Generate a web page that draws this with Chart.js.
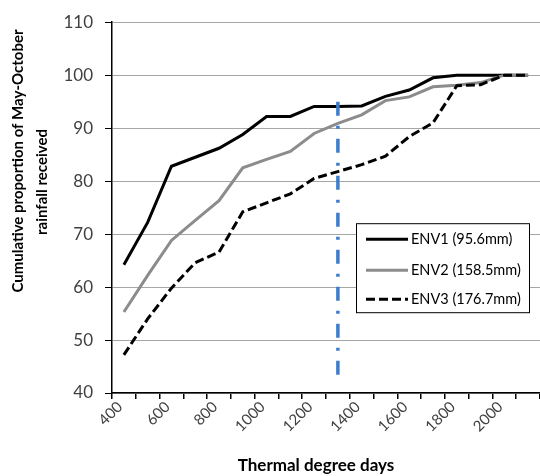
<!DOCTYPE html>
<html>
<head>
<meta charset="utf-8">
<script src="https://cdn.jsdelivr.net/npm/chart.js@4.4.1/dist/chart.umd.min.js"></script>
<style>
  html, body { margin: 0; padding: 0; background: #fff; }
  #wrap { width: 540px; height: 476px; }
</style>
</head>
<body>
<div id="wrap"><canvas id="rainChart" width="540" height="476"></canvas></div>
<script>
// Categories: thermal degree days
const degreeDays = ['400', '500', '600', '700', '800', '900', '1000', '1100', '1200',
    '1300', '1400', '1500', '1600', '1700', '1800', '1900', '2000', '2100'];
const xTickLabels = ['400', '600', '800', '1000', '1200', '1400', '1600', '1800', '2000'];
const yTicks = [40, 50, 60, 70, 80, 90, 100, 110];

// Cumulative proportion of May-October rainfall (%)
const env1 = [64.2, 72.2, 82.8, 84.5, 86.2, 88.8, 92.2, 92.2, 94.1, 94.1, 94.2, 96.0, 97.2, 99.5, 100, 100, 100, 100];
const env2 = [55.3, 62.2, 68.8, 72.6, 76.3, 82.5, 84.1, 85.6, 89.0, 90.9, 92.5, 95.2, 95.9, 97.8, 98.1, 98.6, 100, 100];
const env3 = [47.2, 54.0, 59.8, 64.6, 66.6, 74.2, 75.9, 77.6, 80.5, 81.8, 83.1, 84.7, 88.4, 91.0, 98.0, 98.2, 100, 100];
const seriesNames = ['ENV1 (95.6mm)', 'ENV2 (158.5mm)', 'ENV3 (176.7mm)'];

// Vertical marker
const markerDay = '1300';
const markerRange = [95, 42];

const FONT = 'Lato, "Open Sans", sans-serif';

// Legend box drawn inside the plot area
const insideLegend = {
    id: 'insideLegend',
    afterDraw(chart) {
        const ctx = chart.ctx;
        const area = chart.chartArea;
        const x = area.left + 244, y = area.top + 201, w = 173, h = 89;
        ctx.save();
        ctx.fillStyle = '#fff';
        ctx.fillRect(x, y, w, h);
        ctx.strokeStyle = '#000';
        ctx.lineWidth = 1;
        ctx.strokeRect(x + 0.5, y + 0.5, w, h);
        const rows = [16, 47, 76];
        for (let i = 0; i < 3; i++) {
            const ds = chart.data.datasets[i];
            const ry = y + rows[i];
            ctx.beginPath();
            ctx.strokeStyle = ds.borderColor;
            ctx.lineWidth = ds.borderWidth;
            ctx.setLineDash(ds.borderDash || []);
            ctx.moveTo(x + 10, ry);
            ctx.lineTo(x + 52, ry);
            ctx.stroke();
            ctx.setLineDash([]);
            ctx.fillStyle = '#000';
            ctx.font = '14.5px ' + FONT;
            ctx.textBaseline = 'middle';
            ctx.textAlign = 'left';
            ctx.fillText(ds.label, x + 55, ry);
        }
        ctx.restore();
    }
};

// Axis titles (Excel places the y title a little above centre)
const axisTitles = {
    id: 'axisTitles',
    afterDraw(chart) {
        const ctx = chart.ctx;
        ctx.save();
        ctx.fillStyle = '#000';
        ctx.font = 'bold 15px ' + FONT;
        ctx.textAlign = 'center';
        ctx.textBaseline = 'middle';
        ctx.translate(18, 161);
        ctx.rotate(-Math.PI / 2);
        ctx.fillText('Cumulative proportion of May-October', 0, 0);
        ctx.fillText('rainfall received', -21, 24.5);
        ctx.restore();
        ctx.save();
        ctx.fillStyle = '#000';
        ctx.font = 'bold 17px ' + FONT;
        ctx.textAlign = 'center';
        ctx.textBaseline = 'middle';
        ctx.fillText('Thermal degree days', 316, 466);
        ctx.restore();
    }
};

const lineStyle = { pointRadius: 0, tension: 0, borderWidth: 3, fill: false };

new Chart(document.getElementById('rainChart'), {
    type: 'line',
    data: {
        labels: degreeDays,
        datasets: [
            { ...lineStyle, label: seriesNames[0], data: env1, borderColor: '#000000', order: 3 },
            { ...lineStyle, label: seriesNames[1], data: env2, borderColor: '#8c8c8c', order: 2 },
            { ...lineStyle, label: seriesNames[2], data: env3, borderColor: '#000000', borderDash: [9, 4], order: 0 },
            {
                label: 'marker',
                data: markerRange.map(v => ({ x: markerDay, y: v })),
                borderColor: '#3d7dcc',
                borderWidth: 3.5,
                borderDash: [14, 10, 3, 10],
                pointRadius: 0,
                order: 1
            }
        ]
    },
    options: {
        responsive: false,
        devicePixelRatio: 1,
        animation: false,
        layout: { padding: { top: 20, right: 0, bottom: 0, left: 0 } },
        plugins: {
            legend: { display: false },
            tooltip: { enabled: false }
        },
        scales: {
            x: {
                offset: true,
                afterFit: s => { s.height = 83; },
                border: { color: '#000', width: 1.5 },
                grid: { offset: true, drawOnChartArea: false, tickLength: 6, tickColor: '#000', lineWidth: 1.5 },
                ticks: {
                    autoSkip: false,
                    maxRotation: 45,
                    minRotation: 45,
                    padding: -1,
                    labelOffset: -4,
                    color: '#404040',
                    font: { family: FONT, size: 15 },
                    callback: (v, i) => xTickLabels.includes(degreeDays[i]) ? degreeDays[i] : ''
                }
            },
            y: {
                min: yTicks[0],
                max: yTicks[yTicks.length - 1],
                afterFit: s => { s.width = 112; },
                afterBuildTicks: s => { s.ticks = yTicks.map(v => ({ value: v })); },
                border: { color: '#000', width: 1.5 },
                grid: { color: '#a6a6a6', lineWidth: 1, tickLength: 7, tickColor: '#000' },
                ticks: {
                    padding: 12,
                    color: '#404040',
                    font: { family: FONT, size: 17 }
                }
            }
        }
    },
    plugins: [insideLegend, axisTitles]
});
</script>
</body>
</html>
